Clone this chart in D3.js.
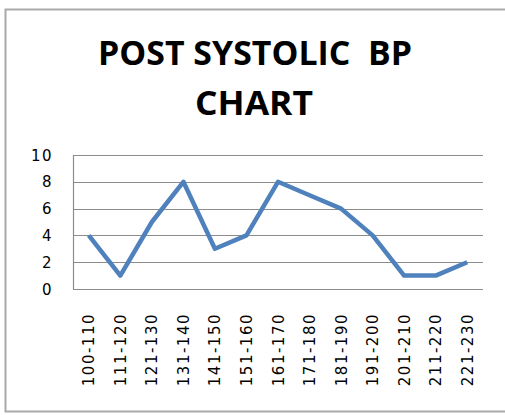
<!DOCTYPE html>
<meta charset="utf-8">
<style>
body { margin: 0; background: #fff; }
svg { display: block; }
text { font-family: "DejaVu Sans", Verdana, sans-serif; fill: #000; }
</style>
<svg width="505" height="415"></svg>
<script src="https://cdn.jsdelivr.net/npm/d3@7"></script>
<script>

var ranges = ["100-110", "111-120", "121-130", "131-140", "141-150", "151-160", "161-170",
              "171-180", "181-190", "191-200", "201-210", "211-220", "221-230"];
var counts = [4, 1, 5, 8, 3, 4, 8, 7, 6, 4, 1, 1, 2];
var yTicks = [0, 2, 4, 6, 8, 10];
var titleLines = ["POST SYSTOLIC  BP", "CHART"];

var svg = d3.select("svg");

// chart frame
svg.append("rect")
  .attr("x", 5.5).attr("y", 9.5)
  .attr("width", 520).attr("height", 402)
  .attr("fill", "none")
  .attr("stroke", "#a9a9a9")
  .attr("stroke-width", 2);

var x = d3.scaleBand().domain(ranges).range([73, 483]);
var y = d3.scaleLinear().domain([0, 10]).range([289, 155]);

// title
svg.selectAll(".title")
  .data(titleLines)
  .enter().append("text")
  .attr("class", "title")
  .attr("x", function(d, i) { return i == 0 ? 98 : 195; })
  .attr("y", function(d, i) { return i == 0 ? 65 : 115; })
  .attr("textLength", function(d, i) { return i == 0 ? 314 : 118; })
  .attr("lengthAdjust", "spacingAndGlyphs")
  .style("font-family", "'Open Sans', sans-serif")
  .style("font-weight", "bold")
  .style("font-size", "34px")
  .style("white-space", "pre")
  .text(function(d) { return d; });

// gridlines
svg.append("g")
  .selectAll("line")
  .data(yTicks)
  .enter().append("line")
  .attr("x1", 73).attr("x2", 483)
  .attr("y1", function(d) { return Math.round(y(d)) + 0.5; })
  .attr("y2", function(d) { return Math.round(y(d)) + 0.5; })
  .attr("stroke", "#8c8c8c")
  .attr("stroke-width", 1.2);

svg.append("line")
  .attr("x1", 73.5).attr("x2", 73.5)
  .attr("y1", y(10)).attr("y2", y(0) + 1)
  .attr("stroke", "#8c8c8c")
  .attr("stroke-width", 1.2);

// y labels
svg.append("g")
  .selectAll("text")
  .data(yTicks)
  .enter().append("text")
  .attr("x", 53)
  .attr("y", function(d) { return y(d) + 5.5; })
  .attr("text-anchor", "end")
  .style("font-size", "15px")
  .style("letter-spacing", "1.5px")
  .text(function(d) { return d; });

// x labels
svg.append("g")
  .selectAll("text")
  .data(ranges)
  .enter().append("text")
  .attr("transform", function(d) {
    return "translate(" + (x(d) + x.bandwidth() / 2 + 5.5) + ",313) rotate(-90)";
  })
  .attr("text-anchor", "end")
  .style("font-size", "15px")
  .style("letter-spacing", "1.5px")
  .text(function(d) { return d; });

// line
var line = d3.line()
  .x(function(d, i) { return x(ranges[i]) + x.bandwidth() / 2; })
  .y(function(d) { return y(d); });

svg.append("path")
  .datum(counts)
  .attr("d", line)
  .attr("fill", "none")
  .attr("stroke", "#4f81bd")
  .attr("stroke-width", 4.5)
  .attr("stroke-linejoin", "round");

</script>
